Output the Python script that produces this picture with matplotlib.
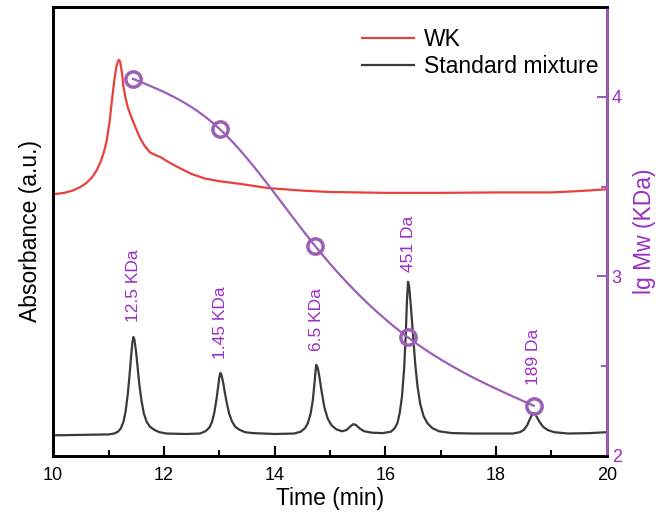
import matplotlib.pyplot as plt
from matplotlib.ticker import MultipleLocator
import numpy as np

plt.rcParams['font.family'] = ['Liberation Sans', 'DejaVu Sans']

# WK sample trace (arbitrary absorbance units)
wk_t = [10.0, 10.2, 10.35, 10.49, 10.6, 10.7, 10.79, 10.86, 10.92, 10.97, 11.02, 11.06,
        11.1, 11.14, 11.17, 11.19, 11.21, 11.24, 11.27, 11.31, 11.35, 11.39, 11.45,
        11.5, 11.57, 11.65, 11.75, 11.85, 11.95, 12.05, 12.15, 12.29, 12.5, 12.74,
        13.0, 13.38, 13.86, 14.5, 15.0, 16.0, 16.44, 17.0, 18.0, 19.0, 19.5, 20.0]
wk_a = [58.3, 58.6, 59.1, 59.9, 60.8, 62.0, 63.7, 65.6, 67.8, 70.4, 74.5, 79.0,
        83.2, 86.6, 87.9, 88.2, 87.8, 85.6, 82.2, 79.6, 77.6, 76.2, 74.3,
        72.8, 70.8, 69.1, 67.6, 67.0, 66.5, 65.7, 65.0, 64.1, 62.8, 61.8,
        61.2, 60.6, 59.7, 59.1, 58.8, 58.6, 58.6, 58.6, 58.7, 58.7, 59.0, 59.4]

# Standard mixture trace
std_t = [10.0, 10.5, 11.0, 11.1, 11.17, 11.22, 11.27, 11.31, 11.35, 11.38, 11.41, 11.43,
         11.45, 11.47, 11.5, 11.53, 11.56, 11.6, 11.64, 11.69, 11.75, 11.83, 11.92, 12.05,
         12.4, 12.65, 12.75, 12.82, 12.87, 12.91, 12.95, 12.98, 13.0, 13.02, 13.04,
         13.07, 13.1, 13.14, 13.18, 13.23, 13.29, 13.37, 13.47, 13.6, 14.0, 14.35,
         14.47, 14.55, 14.6, 14.65, 14.69, 14.72, 14.75, 14.78, 14.81, 14.85, 14.9,
         14.96, 15.03, 15.12, 15.22, 15.3, 15.37, 15.42, 15.47, 15.54, 15.62, 15.75,
         15.95, 16.1, 16.17, 16.22, 16.26, 16.3, 16.34, 16.37, 16.39, 16.41, 16.43,
         16.46, 16.5, 16.54, 16.58, 16.63, 16.69, 16.76, 16.85, 16.97, 17.2, 17.6,
         18.0, 18.3, 18.43, 18.5, 18.56, 18.61, 18.65, 18.67, 18.7, 18.74, 18.79,
         18.85, 18.93, 19.05, 19.3, 19.7, 20.0]
std_a = [4.6, 4.7, 4.8, 5.0, 5.4, 6.1, 7.6, 10.0, 14.0, 18.0, 22.4, 25.2,
         26.5, 25.8, 23.0, 19.2, 15.6, 12.0, 9.4, 7.6, 6.5, 5.8, 5.3, 5.0,
         4.9, 5.0, 5.5, 6.3, 7.6, 9.6, 12.6, 15.4, 17.4, 18.5, 18.1,
         16.4, 14.2, 11.6, 9.4, 7.7, 6.5, 5.8, 5.3, 5.1, 4.9, 5.0,
         5.4, 6.2, 7.3, 9.4, 12.4, 16.2, 20.3, 19.6, 17.6, 14.3, 10.8,
         8.3, 6.8, 5.9, 5.5, 5.8, 6.6, 7.1, 6.9, 6.1, 5.5, 5.2,
         5.1, 5.4, 6.2, 7.4, 9.6, 13.2, 19.5, 27.5, 34.5, 38.8, 37.8,
         33.5, 27.0, 20.5, 15.6, 11.6, 8.9, 7.3, 6.2, 5.5, 5.1, 5.0,
         5.0, 5.0, 5.3, 5.8, 6.8, 8.2, 9.2, 9.6, 9.4, 8.6, 7.5,
         6.5, 5.8, 5.3, 5.0, 5.1, 5.3]

# calibration standards
cal_t = [11.44, 13.01, 14.73, 16.41, 18.68]
cal_lgmw = [4.10, 3.82, 3.17, 2.66, 2.28]
peak_labels = ["12.5 KDa", "1.45 KDa", "6.5 KDa", "451 Da", "189 Da"]
label_t = [11.45, 13.02, 14.75, 16.41, 18.67]
label_a = [29.8, 21.6, 23.4, 41.0, 15.8]

purple = '#9b5fb5'
text_purple = '#9a2fc4'


def natural_spline(x, y, xs):
    # smooth connecting line through the standards
    x = np.asarray(x, float)
    y = np.asarray(y, float)
    n = len(x)
    h = np.diff(x)
    A = np.zeros((n, n))
    b = np.zeros(n)
    A[0, 0] = A[-1, -1] = 1
    for i in range(1, n - 1):
        A[i, i - 1] = h[i - 1]
        A[i, i] = 2 * (h[i - 1] + h[i])
        A[i, i + 1] = h[i]
        b[i] = 6 * ((y[i + 1] - y[i]) / h[i] - (y[i] - y[i - 1]) / h[i - 1])
    M = np.linalg.solve(A, b)
    idx = np.clip(np.searchsorted(x, xs) - 1, 0, n - 2)
    x0, x1, hh = x[idx], x[idx + 1], h[idx]
    return (M[idx] * (x1 - xs) ** 3 / (6 * hh) + M[idx + 1] * (xs - x0) ** 3 / (6 * hh)
            + (y[idx] / hh - M[idx] * hh / 6) * (x1 - xs)
            + (y[idx + 1] / hh - M[idx + 1] * hh / 6) * (xs - x0))


fig = plt.figure(figsize=(6.56, 5.17), dpi=100)
ax = fig.add_axes([0.081, 0.118, 0.844, 0.8685])

ax.plot(wk_t, wk_a, color='#e8413c', lw=1.6, label='WK')
ax.plot(std_t, std_a, color='#3a3a3a', lw=1.6, label='Standard mixture')

for t, a, s in zip(label_t, label_a, peak_labels):
    ax.text(t, a, s, rotation=90, ha='center', va='bottom', color=text_purple, fontsize=12.5)

ax.set_xlim(10, 20)
ax.set_ylim(0, 100)
ax.set_yticks([])
ax.xaxis.set_major_locator(MultipleLocator(2))
ax.xaxis.set_minor_locator(MultipleLocator(1))
ax.tick_params(axis='x', which='major', direction='in', length=7, width=1.5, labelsize=13, pad=8)
ax.tick_params(axis='x', which='minor', direction='in', length=4, width=1.5)
ax.set_xlabel('Time (min)', fontsize=16.5, labelpad=2)
ax.set_ylabel('Absorbance (a.u.)', fontsize=16.5, labelpad=8)
for sp in ax.spines.values():
    sp.set_linewidth(2)

ax.legend(loc='upper left', bbox_to_anchor=(0.52, 1.0), frameon=False, fontsize=16.5,
          handlelength=2.3, handletextpad=0.4, labelspacing=0.2)

ax2 = ax.twinx()
tt = np.linspace(cal_t[0], cal_t[-1], 200)
ax2.plot(tt, natural_spline(cal_t, cal_lgmw, tt), color=purple, lw=1.6)
ax2.plot(cal_t, cal_lgmw, 'o', ms=11, mfc='none', mec=purple, mew=2.5)
ax2.set_ylim(2, 4.5)
ax2.set_yticks([2, 3, 4])
ax2.yaxis.set_minor_locator(MultipleLocator(0.5))
ax2.tick_params(axis='y', which='major', direction='in', length=7, width=1.5,
                colors=purple, labelsize=13, labelcolor=text_purple)
ax2.tick_params(axis='y', which='minor', direction='in', length=4, width=1.5, colors=purple)
ax2.set_ylabel('lg Mw (KDa)', fontsize=16.5, color=text_purple, labelpad=8)
for sp in ax2.spines.values():
    sp.set_linewidth(2)
ax2.spines['right'].set_color(purple)

fig.savefig('out.png', dpi=100)
